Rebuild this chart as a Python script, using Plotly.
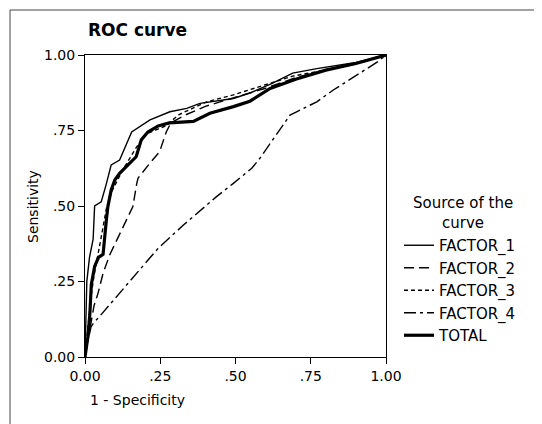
import plotly.graph_objects as go

# ---- data ----
series_names = ["FACTOR_1", "FACTOR_2", "FACTOR_3", "FACTOR_4", "TOTAL"]

f1_x = [0, 0.003, 0.006, 0.015, 0.027, 0.032, 0.054, 0.07, 0.087, 0.115, 0.135, 0.155, 0.216, 0.282, 0.338, 0.382, 0.493, 0.55, 0.62, 0.69, 0.77, 0.9, 1.0]
f1_y = [0, 0.12, 0.25, 0.33, 0.39, 0.50, 0.514, 0.57, 0.636, 0.652, 0.70, 0.745, 0.785, 0.812, 0.823, 0.84, 0.856, 0.875, 0.905, 0.94, 0.955, 0.975, 1.0]

f2_x = [0, 0.01, 0.02, 0.03, 0.043, 0.06, 0.082, 0.121, 0.159, 0.172, 0.176, 0.215, 0.248, 0.27, 0.285, 0.33, 0.4, 0.5, 0.6, 0.7, 0.8, 0.9, 1.0]
f2_y = [0, 0.06, 0.12, 0.17, 0.21, 0.277, 0.338, 0.42, 0.498, 0.575, 0.592, 0.641, 0.68, 0.745, 0.775, 0.80, 0.83, 0.86, 0.89, 0.925, 0.95, 0.97, 1.0]

f3_x = [0, 0.01, 0.02, 0.03, 0.04, 0.05, 0.072, 0.09, 0.124, 0.17, 0.2, 0.267, 0.313, 0.36, 0.404, 0.493, 0.581, 0.69, 0.8, 0.9, 1.0]
f3_y = [0, 0.10, 0.20, 0.27, 0.33, 0.376, 0.496, 0.55, 0.617, 0.693, 0.737, 0.765, 0.803, 0.825, 0.845, 0.868, 0.895, 0.93, 0.95, 0.972, 1.0]

f4_x = [0, 0.005, 0.02, 0.03, 0.043, 0.11, 0.17, 0.243, 0.327, 0.437, 0.493, 0.554, 0.581, 0.615, 0.681, 0.703, 0.77, 0.825, 0.914, 0.973, 1.0]
f4_y = [0, 0.03, 0.10, 0.115, 0.128, 0.205, 0.277, 0.36, 0.437, 0.531, 0.575, 0.625, 0.658, 0.707, 0.801, 0.812, 0.845, 0.884, 0.939, 0.978, 1.0]

tot_x = [0, 0.01, 0.016, 0.021, 0.032, 0.045, 0.06, 0.065, 0.071, 0.076, 0.087, 0.099, 0.115, 0.143, 0.17, 0.187, 0.209, 0.243, 0.28, 0.36, 0.415, 0.493, 0.548, 0.615, 0.7, 0.8, 0.9, 1.0]
tot_y = [0, 0.07, 0.14, 0.24, 0.30, 0.33, 0.34, 0.40, 0.454, 0.498, 0.553, 0.586, 0.608, 0.636, 0.663, 0.719, 0.745, 0.765, 0.775, 0.78, 0.807, 0.829, 0.847, 0.889, 0.92, 0.95, 0.972, 1.0]

tick_vals = [0, 0.25, 0.5, 0.75, 1.0]
tick_text = ["0.00", ".25", ".50", ".75", "1.00"]

FONT = "DejaVu Sans"
PAGE_OFF = 8  # default body margin of the html page

# page-pixel helpers (plot area in page pixels: x 85..386, y 55..357)
def px_x(p):
    return (p - 85) / 301

def px_y(p):
    return (357 - p) / 302

xs = [f1_x, f2_x, f3_x, f4_x, tot_x]
ys = [f1_y, f2_y, f3_y, f4_y, tot_y]
dashes = ["solid", "10px,5px", "4px,3px", "12px,4px,3px,4px", "solid"]
widths = [1.4, 1.4, 1.4, 1.4, 3.2]

fig = go.Figure()
for name, x, y, d, w in zip(series_names, xs, ys, dashes, widths):
    fig.add_trace(go.Scatter(x=x, y=y, mode="lines", name=name,
                             line=dict(color="black", width=w, dash=d)))

axis_common = dict(range=[0, 1], tickvals=tick_vals, ticktext=tick_text,
                   showgrid=False, zeroline=False, showline=True, linecolor="black",
                   linewidth=1, mirror=True, ticks="outside", ticklen=6,
                   tickcolor="black", tickfont=dict(family=FONT, size=14, color="black"))

W, H = 542 - PAGE_OFF, 424 - PAGE_OFF
fig.update_layout(
    width=W, height=H,
    margin=dict(l=85 - PAGE_OFF, r=542 - 386, t=55 - PAGE_OFF, b=424 - 357),
    paper_bgcolor="white", plot_bgcolor="white",
    xaxis=dict(**axis_common),
    yaxis=dict(**axis_common),
    title=dict(text="<b>ROC curve</b>", x=(88 - PAGE_OFF) / W, xanchor="left",
               y=1 - (30 - PAGE_OFF) / H, yanchor="middle",
               font=dict(family=FONT, size=17, color="black")),
    legend=dict(x=px_x(399), xanchor="left", y=px_y(229), yanchor="top",
                font=dict(family=FONT, size=15, color="black"),
                bgcolor="rgba(0,0,0,0)"),
    annotations=[
        dict(text="Source of the<br>curve", align="center", xref="paper", yref="paper",
             x=px_x(463), xanchor="center", y=px_y(213), yanchor="middle", showarrow=False,
             font=dict(family=FONT, size=15, color="black")),
        dict(text="Sensitivity", textangle=-90, xref="paper", yref="paper",
             x=px_x(33), xanchor="center", y=px_y(207), yanchor="middle", showarrow=False,
             font=dict(family=FONT, size=14, color="black")),
        dict(text="1 - Specificity", xref="paper", yref="paper",
             x=px_x(88), xanchor="left", y=px_y(400), yanchor="middle", showarrow=False,
             font=dict(family=FONT, size=14, color="black")),
    ],
    shapes=[
        dict(type="rect", xref="paper", yref="paper",
             x0=px_x(10), x1=px_x(536), y0=px_y(430), y1=px_y(10),
             line=dict(color="#444", width=1)),
    ],
)

fig.write_html("out.html")
